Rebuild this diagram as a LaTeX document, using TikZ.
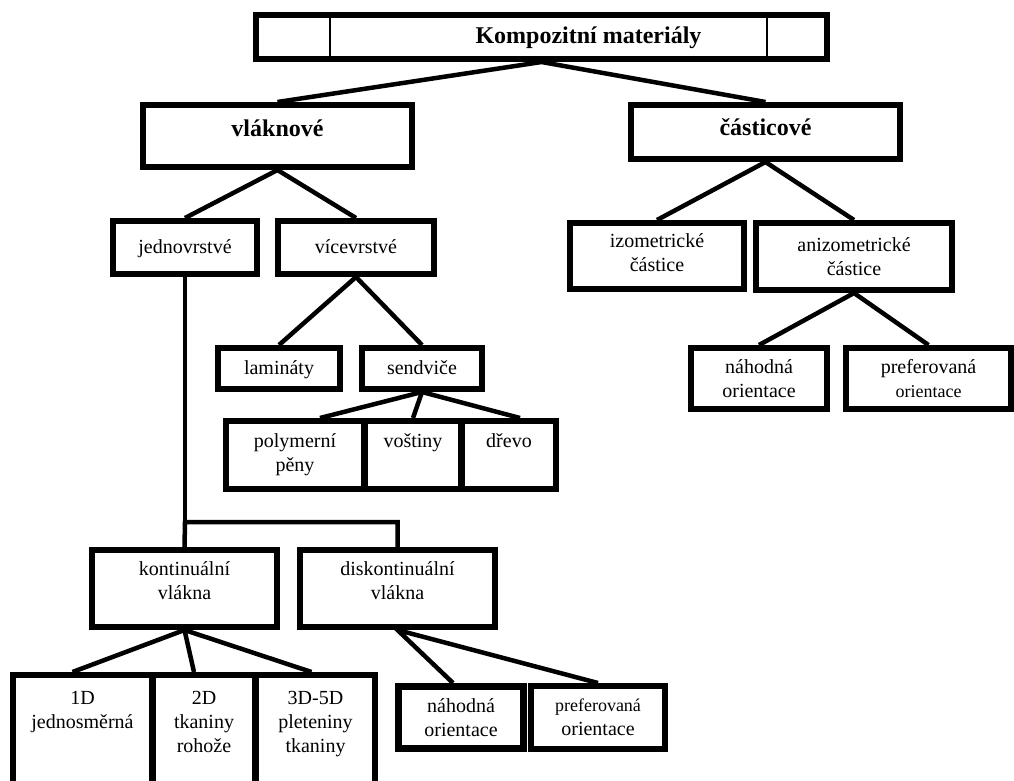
\documentclass[tikz,border=0pt]{standalone}
\usepackage{fontspec}
\setmainfont{Liberation Serif}
\usetikzlibrary{calc, positioning}

\begin{document}
\begin{tikzpicture}[
  x=1pt, y=-1pt,
  box/.style={draw, line width=6pt, align=center, inner sep=0pt,
              font=\fontsize{20}{24}\selectfont},
  single/.style={box, text height=16pt, text depth=4pt},
  head/.style={box, font=\fontsize{24}{28}\selectfont\bfseries},
  base/.style={box, anchor=north, inner ysep=16pt, text depth=60pt},
  conn/.style={line width=4.5pt}
]
\useasboundingbox (0,0) rectangle (1014,780);

% top level
\node[head, text height=16pt, text depth=4pt, minimum width=571pt, minimum height=44pt] (root) at (541.5,37) {\hspace*{94pt}Kompozitní materiály};
\draw[line width=1.2pt] (330,15) -- (330,59);
\draw[line width=1.2pt] (767,15) -- (767,59);

\node[head, text height=10pt, text depth=10pt, minimum width=269pt, minimum height=62pt] (vlakn) at (277.5,136) {vláknové};
\node[head, text height=12pt, text depth=6pt, minimum width=269pt, minimum height=54pt] (cast) at (765.5,132) {částicové};

% vlaknove
\node[single, minimum width=144pt, minimum height=53pt] (jedn) at (185,247.5) {jednovrstvé};
\node[single, minimum width=156pt, minimum height=53pt] (vice) at (356,247.5) {vícevrstvé};
\node[single, minimum width=122pt, minimum height=41pt] (lam) at (279,368.5) {lamináty};
\node[single, minimum width=120pt, minimum height=41pt] (send) at (422,368.5) {sendviče};
\node[box, minimum width=138pt, minimum height=68pt] (poly) at (295,455) {polymerní\\pěny};
\node[box, minimum width=96pt, minimum height=68pt, right=-5pt of poly] (vost) {voštiny\\\vphantom{pěny}};
\node[box, minimum width=94pt, minimum height=68pt, right=-5pt of vost] (drevo) {dřevo\\\vphantom{pěny}};

% casticove
\node[box, text depth=6pt, minimum width=174pt, minimum height=66pt] (izo) at (657,256) {izometrické\\částice};
\node[box, minimum width=196pt, minimum height=67pt] (aniz) at (854,256.5) {anizometrické\\částice};
\node[box, minimum width=136pt, minimum height=61pt] (nah1) at (759,378.5) {náhodná\\orientace};
\node[box, minimum width=165pt, minimum height=61pt] (pref1) at (928.5,378.5) {preferovaná\\{\fontsize{18}{22}\selectfont orientace}};

% jednovrstve
\node[box, text depth=16pt, minimum width=185pt, minimum height=77pt] (kont) at (184.5,588.5) {kontinuální\\vlákna};
\node[box, text depth=16pt, minimum width=195pt, minimum height=77pt] (disk) at (397.5,588.5) {diskontinuální\\vlákna};
\node[base, minimum width=139pt] (one) at (82.5,672) {1D\\jednosměrná};
\node[base, anchor=north west, minimum width=102pt] (two) at ([xshift=-5pt]one.north east) {2D\\tkaniny\\rohože};
\node[base, anchor=north west, minimum width=119pt] (three) at ([xshift=-5pt]two.north east) {3D-5D\\pleteniny\\tkaniny};
\node[box, line width=7pt, minimum width=125pt, minimum height=62pt] (nah2) at (461,717.5) {náhodná\\orientace};
\node[box, minimum width=134pt, minimum height=63pt, right=1pt of nah2] (pref2) {{\fontsize{18}{22}\selectfont preferovaná}\\orientace};

\coordinate (fork) at (185,522);

\draw[conn] (vlakn.north) -- (root.south) -- (cast.north);
\draw[conn] (jedn.north) -- (vlakn.south) -- (vice.north);
\draw[conn] (izo.north) -- (cast.south) -- (aniz.north);
\draw[conn] (lam.north) -- (vice.south) -- (send.north);
\draw[conn] ([xshift=25pt]poly.north) -- (send.south) -- ([xshift=11pt]drevo.north);
\draw[conn] (send.south) -- (vost.north);
\draw[conn] (nah1.north) -- (aniz.south) -- (pref1.north);
\draw[conn] (kont.north) -- (fork) -| (disk.north);
\draw[conn] (fork) -- (jedn.south);
\draw[conn] ([xshift=-10pt]one.north) -- (kont.south) -- ([xshift=-4pt]three.north);
\draw[conn] (kont.south) -- ([xshift=-10pt]two.north);
\draw[conn] ([xshift=-8pt]nah2.north) -- (disk.south) -- (pref2.north);
\end{tikzpicture}
\end{document}
